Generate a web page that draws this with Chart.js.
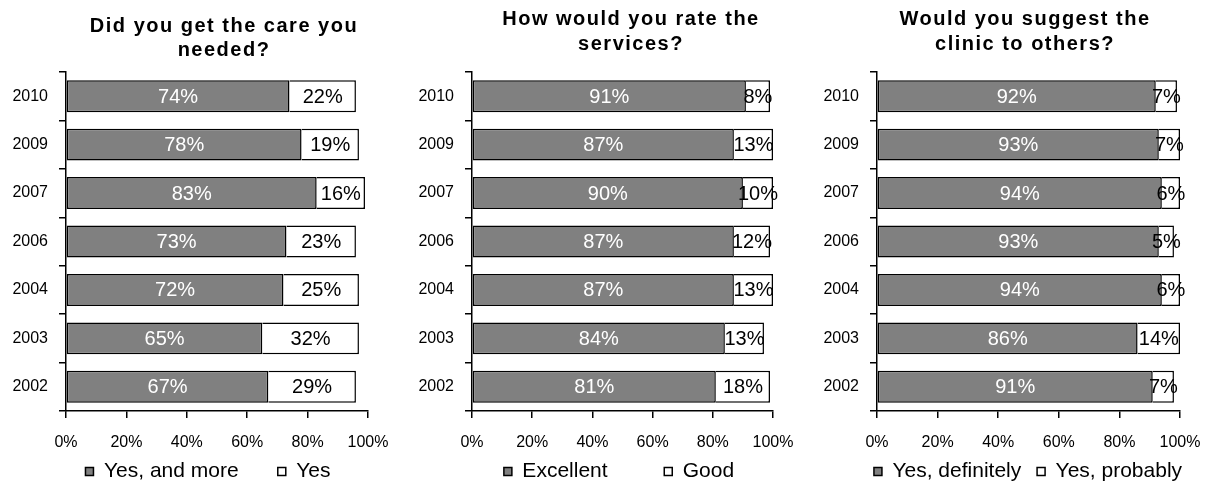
<!DOCTYPE html>
<html>
<head>
<meta charset="utf-8">
<script src="https://cdn.jsdelivr.net/npm/chart.js@4.4.1/dist/chart.umd.min.js"></script>
<style>
  html, body { margin: 0; padding: 0; background: #fff; overflow: hidden; width: 1206px; height: 482px; }
  canvas { position: absolute; top: 0; }
</style>
</head>
<body>
<canvas id="care" width="416" height="492" style="left:0px"></canvas>
<canvas id="services" width="434" height="492" style="left:402px"></canvas>
<canvas id="suggest" width="448" height="492" style="left:804px"></canvas>
<script>
// survey years, top to bottom
const years = ["2010", "2009", "2007", "2006", "2004", "2003", "2002"];

// Did you get the care you needed?
const careYesMore = [74, 78, 83, 73, 72, 65, 67];
const careYes = [22, 19, 16, 23, 25, 32, 29];

// How would you rate the services?
const servExcellent = [91, 87, 90, 87, 87, 84, 81];
const servGood = [8, 13, 10, 12, 13, 13, 18];

// Would you suggest the clinic to others?
const suggDefinitely = [92, 93, 94, 93, 94, 86, 91];
const suggProbably = [7, 7, 6, 5, 6, 14, 7];

const xTicks = [0, 20, 40, 60, 80, 100];

Chart.defaults.font.family = "'Liberation Sans', Arial, sans-serif";
Chart.defaults.color = "#000";

// writes the percentage in the middle of every segment
const segmentLabels = {
    id: "segmentLabels",
    afterDatasetsDraw(chart) {
        const ctx = chart.ctx;
        ctx.save();
        ctx.font = "20px 'Liberation Sans', Arial, sans-serif";
        ctx.textAlign = "center";
        ctx.textBaseline = "middle";
        chart.data.datasets.forEach((ds, i) => {
            const meta = chart.getDatasetMeta(i);
            ctx.fillStyle = i === 0 ? "#fff" : "#000";
            meta.data.forEach((bar, j) => {
                ctx.fillText(ds.data[j] + "%", (bar.x + bar.base) / 2, bar.y + 1);
            });
        });
        ctx.restore();
    }
};

// two-line bold heading, letter-spaced like the original
const heading = {
    id: "heading",
    afterDraw(chart, args, opts) {
        const ctx = chart.ctx;
        ctx.save();
        ctx.font = "bold 20px 'Liberation Sans', Arial, sans-serif";
        ctx.letterSpacing = "1.5px";
        ctx.fillStyle = "#000";
        ctx.textAlign = "center";
        ctx.textBaseline = "middle";
        opts.lines.forEach((line, k) => {
            ctx.fillText(line, opts.x, opts.y + k * 24.5);
        });
        ctx.restore();
    }
};

function makeChart(canvasId, title, titleX, titleY, names, first, second, leftW, rightW, gapSpaces) {
    return new Chart(document.getElementById(canvasId), {
        type: "bar",
        data: {
            labels: years,
            datasets: [{
                label: names[0],
                data: first,
                backgroundColor: "#808080",
                borderColor: "#000",
                borderWidth: 1.5,
                borderSkipped: false
            }, {
                label: names[1],
                data: second,
                backgroundColor: "#fff",
                borderColor: "#000",
                borderWidth: 1.5,
                borderSkipped: "start"
            }]
        },
        options: {
            indexAxis: "y",
            responsive: false,
            animation: false,
            barPercentage: 0.66,
            categoryPercentage: 1,
            layout: { padding: { top: 72, left: 0, right: 0, bottom: 0 } },
            scales: {
                x: {
                    stacked: true,
                    min: 0,
                    max: 100,
                    afterBuildTicks: s => { s.ticks = xTicks.map(v => ({ value: v })); },
                    ticks: {
                        callback: v => v + "%",
                        font: { size: 16 },
                        padding: 15,
                        maxRotation: 0
                    },
                    grid: { drawOnChartArea: false, tickLength: 7, color: "#000", lineWidth: 1.5 },
                    border: { color: "#000", width: 1.5 },
                    afterFit: s => { s.height = 40; }
                },
                y: {
                    stacked: true,
                    ticks: { font: { size: 16 }, padding: 11 },
                    grid: { drawOnChartArea: false, tickLength: 7, color: "#000", lineWidth: 1.5, offset: true },
                    border: { color: "#000", width: 1.5 },
                    afterFit: s => { s.width = leftW; }
                },
                yr: {
                    position: "right",
                    type: "category",
                    ticks: { display: false },
                    grid: { display: false },
                    border: { display: false },
                    afterFit: s => { s.width = rightW; }
                }
            },
            plugins: {
                legend: {
                    position: "bottom",
                    labels: {
                        font: { size: 21 },
                        boxWidth: 8,
                        boxHeight: 8,
                        padding: 10,
                        color: "#000",
                        generateLabels: chart => {
                            const items = Chart.defaults.plugins.legend.labels.generateLabels(chart);
                            items[0].text += " ".repeat(gapSpaces);
                            return items;
                        }
                    }
                },
                tooltip: { enabled: false },
                heading: { lines: title, x: titleX, y: titleY }
            }
        },
        plugins: [segmentLabels, heading]
    });
}

makeChart("care", ["Did you get the care you", "needed?"], 224, 26,
    ["Yes, and more", "Yes"], careYesMore, careYes, 66, 48, 5);
makeChart("services", ["How would you rate the", "services?"], 229, 19.5,
    ["Excellent", "Good"], servExcellent, servGood, 70, 63, 8);
makeChart("suggest", ["Would you suggest the", "clinic to others?"], 221, 19.5,
    ["Yes, definitely", "Yes, probably"], suggDefinitely, suggProbably, 73, 72, 1);
</script>
</body>
</html>
